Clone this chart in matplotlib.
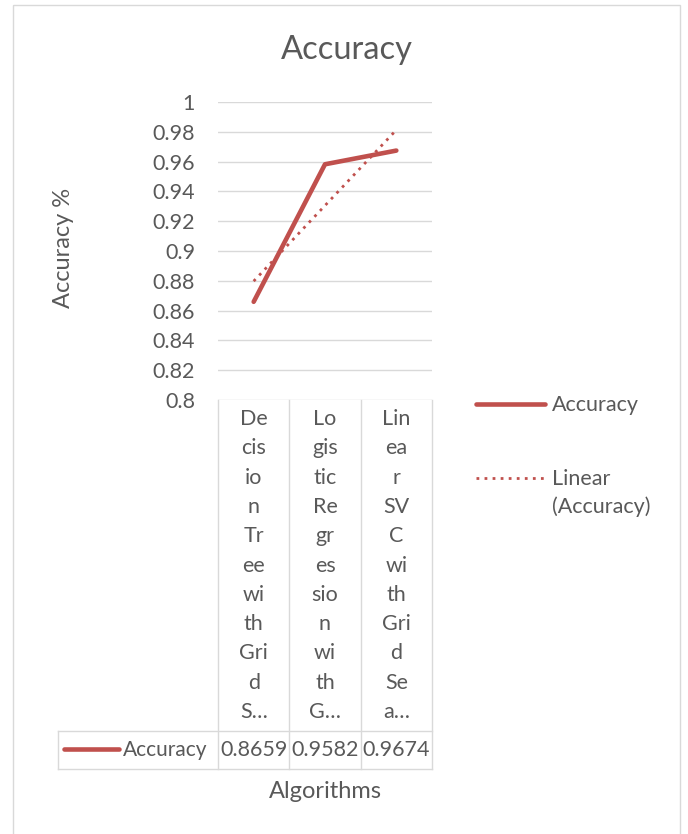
import numpy as np
import matplotlib
matplotlib.use("Agg")
import matplotlib.pyplot as plt
from matplotlib.lines import Line2D
from matplotlib.patches import Rectangle
from matplotlib.transforms import Affine2D

W, H = 688, 834

# --- data ---
algorithms = ["Decision Tree with Grid S…",
              "Logistic Regression with G…",
              "Linear SVC with Grid Sea…"]
# how the category names wrap inside the narrow table cells
wrapped = [["De", "cis", "io", "n", "Tr", "ee", "wi", "th", "Gri", "d", "S…"],
           ["Lo", "gis", "tic", "Re", "gr", "es", "sio", "n", "wi", "th", "G…"],
           ["Lin", "ea", "r", "SV", "C", "wi", "th", "Gri", "d", "Se", "a…"]]
accuracy = [0.8659, 0.9582, 0.9674]
value_labels = ["0.8659", "0.9582", "0.9674"]
y_ticks = [0.8, 0.82, 0.84, 0.86, 0.88, 0.9, 0.92, 0.94, 0.96, 0.98, 1.0]
y_tick_labels = ["0.8", "0.82", "0.84", "0.86", "0.88", "0.9",
                 "0.92", "0.94", "0.96", "0.98", "1"]
series_name = "Accuracy"

RED = "#C0504D"
TXT = "#595959"
GRID = "#D9D9D9"
plt.rcParams["font.family"] = ["Lato", "DejaVu Sans"]

TICK_FS = 15.5
TABLE_FS = 15.5
AXIS_FS = 17
TITLE_FS = 23.5

fig = plt.figure(figsize=(W / 100, H / 100), dpi=100)
# pixel transform, origin top-left
pix = Affine2D().scale(1 / W, -1 / H).translate(0, 1) + fig.transFigure

fig.patches.append(Rectangle((13, 5), 667, 840, transform=pix, fill=False,
                             edgecolor=GRID, linewidth=1))

ax = fig.add_axes([218 / W, 1 - 400 / H, 214 / W, 298 / H])
x = np.arange(1, len(accuracy) + 1)
ax.set_xlim(0.5, len(accuracy) + 0.5)
ax.set_ylim(0.8, 1.0)
for s in ax.spines.values():
    s.set_visible(False)
ax.set_yticks(y_ticks)
ax.set_yticklabels(y_tick_labels)
ax.set_xticks([])
ax.tick_params(axis="y", length=0, pad=16.5, labelsize=TICK_FS, labelcolor=TXT)
ax.grid(axis="y", color=GRID, linewidth=1)
ax.set_axisbelow(True)

line, = ax.plot(x, accuracy, color=RED, linewidth=3.3,
                solid_capstyle="round", solid_joinstyle="round", clip_on=False)
slope, icpt = np.polyfit(x, accuracy, 1)
trend, = ax.plot(x, slope * x + icpt, color=RED, linewidth=2,
                 linestyle=(0, (1, 1.9)), clip_on=False)

fig.text(347 / W, 1 - 50 / H, "Accuracy", ha="center", va="center",
         fontsize=TITLE_FS, color=TXT)
fig.text(63 / W, 1 - 248 / H, "Accuracy %", ha="center", va="center",
         rotation=90, fontsize=AXIS_FS, color=TXT)
fig.text(325 / W, 1 - 791 / H, "Algorithms", ha="center", va="center",
         fontsize=AXIS_FS, color=TXT)

# --- data table under the axis ---
edges = [ax.transData.transform((e, 0))[0] for e in np.arange(0.5, len(x) + 1, 1)]
centers = [ax.transData.transform((c, 0))[0] for c in x]
top, mid, bot, left = 400, 731, 769, 58


def seg(x0, y0, x1, y1, **kw):
    fig.lines.append(Line2D([x0, x1], [y0, y1], transform=pix, **kw))


for e in edges:
    seg(e, top, e, bot, color=GRID, linewidth=1)
seg(left, mid, edges[-1], mid, color=GRID, linewidth=1)
seg(left, bot, edges[-1], bot, color=GRID, linewidth=1)
seg(left, mid, left, bot, color=GRID, linewidth=1)

for cx, parts in zip(centers, wrapped):
    for i, p in enumerate(parts):
        fig.text(cx / W, 1 - (419 + i * 29.3) / H, p, ha="center", va="center",
                 fontsize=TABLE_FS, color=TXT)
for cx, v in zip(centers, value_labels):
    fig.text(cx / W, 1 - 750 / H, v, ha="center", va="center",
             fontsize=TABLE_FS, color=TXT)
seg(64, 749, 119, 749, color=RED, linewidth=3.3, solid_capstyle="round")
fig.text(123 / W, 1 - 750 / H, series_name, ha="left", va="center",
         fontsize=TABLE_FS - 0.5, color=TXT)

# --- legend on the right ---
seg(476, 404, 545, 404, color=RED, linewidth=3.3, solid_capstyle="round")
fig.text(552 / W, 1 - 405 / H, series_name, ha="left", va="center",
         fontsize=TABLE_FS, color=TXT)
seg(476, 478, 545, 478, color=RED, linewidth=2, linestyle=(0, (1, 1.9)))
fig.text(552 / W, 1 - 479 / H, "Linear", ha="left", va="center",
         fontsize=TABLE_FS, color=TXT)
fig.text(552 / W, 1 - 507 / H, "(" + series_name + ")", ha="left", va="center",
         fontsize=TABLE_FS, color=TXT)

fig.savefig("out.png", dpi=100)
